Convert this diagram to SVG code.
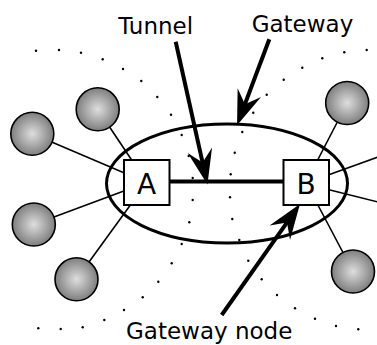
<svg xmlns="http://www.w3.org/2000/svg" width="377" height="345" viewBox="0 0 377 345">
  <style>
    .dot { fill: #000; }
    .link { stroke: #000; stroke-width: 1.6; fill: none; }
    .peer { stroke: #000; stroke-width: 1.6; fill: url(#ball); }
    .box { fill: #fff; stroke: #000; stroke-width: 2; }
    .gw { fill: none; stroke: #000; stroke-width: 3; }
    .tunnel { stroke: #000; stroke-width: 4; fill: none; }
    .pointer { stroke: #000; stroke-width: 4; fill: none; marker-end: url(#head); }
    .label { font-family: "DejaVu Sans", "Liberation Sans", sans-serif; font-size: 23px; fill: #000; }
    .boxlabel { font-family: "DejaVu Sans", "Liberation Sans", sans-serif; font-size: 28px; fill: #000; text-anchor: middle; }
  </style>
  <defs>
    <radialGradient id="ball" cx="0.5" cy="0.5" r="0.5">
      <stop offset="0" stop-color="#dedede"/>
      <stop offset="1" stop-color="#7e7e7e"/>
    </radialGradient>
    <marker id="head" markerUnits="userSpaceOnUse" markerWidth="40" markerHeight="30" viewBox="-16 -12 32 24" refX="0" refY="0" orient="auto" overflow="visible">
      <path d="M14,0 L-14,-10 L-4,0 L-14,10 Z" fill="#000"/>
    </marker>
  </defs>

  <!-- dotted boundaries of the two networks -->
  <g id="boundaries">
    <g class="dot">
      <circle cx="36" cy="50.7" r="1.2"/>
      <circle cx="59" cy="50" r="1.2"/>
      <circle cx="81" cy="52.7" r="1.2"/>
      <circle cx="102.7" cy="59.3" r="1.2"/>
      <circle cx="123" cy="69" r="1.2"/>
      <circle cx="141.3" cy="81" r="1.2"/>
      <circle cx="157.3" cy="97" r="1.2"/>
      <circle cx="171" cy="114.7" r="1.2"/>
      <circle cx="181.7" cy="135" r="1.2"/>
      <circle cx="188.7" cy="156" r="1.2"/>
      <circle cx="192.7" cy="178" r="1.2"/>
      <circle cx="192.7" cy="200" r="1.2"/>
      <circle cx="189.3" cy="222.3" r="1.2"/>
      <circle cx="181.7" cy="244" r="1.2"/>
      <circle cx="171.7" cy="263.3" r="1.2"/>
      <circle cx="158.3" cy="281.7" r="1.2"/>
      <circle cx="142.7" cy="297.3" r="1.2"/>
      <circle cx="124" cy="310" r="1.2"/>
      <circle cx="104.3" cy="320" r="1.2"/>
      <circle cx="82.7" cy="327.3" r="1.2"/>
      <circle cx="60.7" cy="329" r="1.2"/>
      <circle cx="38.3" cy="328.3" r="1.2"/>

      <circle cx="366.7" cy="50" r="1.2"/>
      <circle cx="344.3" cy="52.3" r="1.2"/>
      <circle cx="322.3" cy="58.3" r="1.2"/>
      <circle cx="302.3" cy="67.7" r="1.2"/>
      <circle cx="283.7" cy="79.7" r="1.2"/>
      <circle cx="266.7" cy="94.7" r="1.2"/>
      <circle cx="253.3" cy="112.7" r="1.2"/>
      <circle cx="242.3" cy="132" r="1.2"/>
      <circle cx="234.7" cy="152.7" r="1.2"/>
      <circle cx="230.7" cy="174.3" r="1.2"/>
      <circle cx="230" cy="197.3" r="1.2"/>
      <circle cx="232.3" cy="219" r="1.2"/>
      <circle cx="239.3" cy="240" r="1.2"/>
      <circle cx="248.3" cy="260.7" r="1.2"/>
      <circle cx="261.7" cy="279.3" r="1.2"/>
      <circle cx="277" cy="295" r="1.2"/>
      <circle cx="295" cy="308.3" r="1.2"/>
      <circle cx="315" cy="318.7" r="1.2"/>
      <circle cx="336" cy="326" r="1.2"/>
      <circle cx="358.3" cy="329.3" r="1.2"/>
    </g>
  </g>

  <!-- gateway outline -->
  <g id="gateway">
    <ellipse class="gw" cx="227" cy="183.5" rx="120.5" ry="59.5"/>
  </g>

  <!-- links between peers and gateway nodes -->
  <g id="connectors">
    <line class="link" x1="97.7" y1="109.3" x2="146.7" y2="182.5"/>
    <line class="link" x1="32.3" y1="133.8" x2="146.7" y2="182.5"/>
    <line class="link" x1="33.8" y1="224.5" x2="146.7" y2="182.5"/>
    <line class="link" x1="76.5" y1="279.3" x2="146.7" y2="182.5"/>
    <line class="link" x1="347.2" y1="103" x2="306" y2="182.5"/>
    <line class="link" x1="353" y1="271.5" x2="306" y2="182.5"/>
    <line class="link" x1="306" y1="183" x2="390" y2="152.8"/>
    <line class="link" x1="306" y1="184" x2="390" y2="205"/>
    <line class="tunnel" x1="169" y1="181.5" x2="284" y2="181.5"/>
  </g>

  <!-- peer nodes -->
  <g id="peer-1"><circle class="peer" cx="97.7" cy="109.3" r="21.5"/></g>
  <g id="peer-2"><circle class="peer" cx="32.3" cy="133.8" r="21.5"/></g>
  <g id="peer-3"><circle class="peer" cx="33.8" cy="224.5" r="21.5"/></g>
  <g id="peer-4"><circle class="peer" cx="76.5" cy="279.3" r="21.5"/></g>
  <g id="peer-5"><circle class="peer" cx="347.2" cy="103" r="21.5"/></g>
  <g id="peer-6"><circle class="peer" cx="353" cy="271.5" r="21.5"/></g>

  <!-- gateway nodes -->
  <g id="node-a">
    <rect class="box" x="124" y="160" width="45.5" height="45"/>
    <text class="boxlabel" x="146.7" y="193.5">A</text>
  </g>
  <g id="node-b">
    <rect class="box" x="283.5" y="160" width="45.5" height="45"/>
    <text class="boxlabel" x="306.2" y="193.5">B</text>
  </g>

  <!-- callout arrows -->
  <g id="callouts">
    <line class="pointer" x1="175.7" y1="41.7" x2="203.66" y2="167.33"/>
    <line class="pointer" x1="269.3" y1="39.3" x2="243.2" y2="108.9"/>
    <line class="pointer" x1="221.7" y1="315" x2="289.9" y2="218.4"/>
  </g>

  <!-- labels -->
  <g id="labels">
    <text class="label" x="118.3" y="34.3">Tunnel</text>
    <text class="label" x="251.7" y="32.3">Gateway</text>
    <text class="label" x="126" y="339.3">Gateway node</text>
  </g>
</svg>
